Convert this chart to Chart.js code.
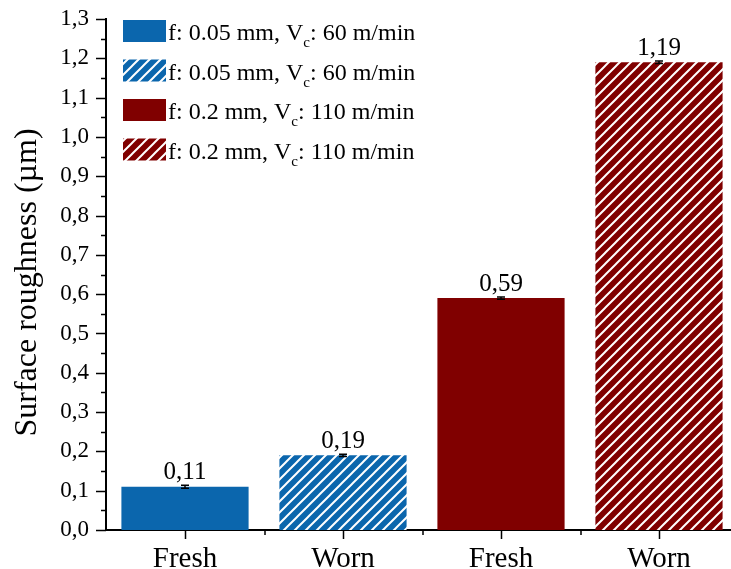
<!DOCTYPE html>
<html lang="en">
<head>
  <meta charset="UTF-8" />
  <title>Surface roughness</title>
  <script src="https://cdn.jsdelivr.net/npm/chart.js"></script>
  <style>
    html, body { margin: 0; padding: 0; background: #fff; overflow: hidden; }
    #wrap { width: 750px; height: 569px; }
  </style>
</head>
<body>
  <div id="wrap"><canvas id="roughChart" width="750" height="569"></canvas></div>

  <script>
    // Surface roughness per tool state
    const categories = ['Fresh', 'Worn', 'Fresh', 'Worn'];
    const roughness = [0.11, 0.19, 0.59, 1.19];
    const roughnessErr = [0.004, 0.003, 0.003, 0.003];
    const hatched = [false, true, false, true];
    const barColors = ['#0b66ad', '#0b66ad', '#800000', '#800000'];

    // Cutting conditions shown in the legend
    const legendFeed = ['0.05', '0.05', '0.2', '0.2'];
    const legendSpeed = ['60', '60', '110', '110'];

    // Y axis range and ticks
    const yMin = 0;
    const yMax = 1.3;
    const yStep = 0.1;
    const yTitle = 'Surface roughness (\u00b5m)';

    const FONT = '"Liberation Serif", "Times New Roman", serif';

    function hatchPattern(color) {
      const s = 11;
      const c = document.createElement('canvas');
      c.width = s; c.height = s;
      const g = c.getContext('2d');
      g.fillStyle = color;
      g.fillRect(0, 0, s, s);
      g.strokeStyle = '#fff';
      g.lineWidth = 2;
      g.beginPath();
      g.moveTo(0, s); g.lineTo(s, 0);
      g.moveTo(-2, 2); g.lineTo(2, -2);
      g.moveTo(s - 2, s + 2); g.lineTo(s + 2, s - 2);
      g.stroke();
      return document.getElementById('roughChart').getContext('2d').createPattern(c, 'repeat');
    }

    const fills = barColors.map((c, i) => hatched[i] ? hatchPattern(c) : c);
    const fmt = v => v.toFixed(2).replace('.', ',');

    // tick marks, error bars, value labels, axis title and legend
    const extras = {
      id: 'extras',
      afterDatasetsDraw(chart) {
        const { ctx, chartArea, scales: { x, y } } = chart;
        ctx.save();
        ctx.strokeStyle = '#000';
        ctx.lineWidth = 1.5;

        // y ticks, major at labels and minor in between
        ctx.beginPath();
        for (let v = yMin; v <= yMax + 1e-9; v += yStep) {
          const py = Math.round(y.getPixelForValue(v)) + 0.5;
          ctx.moveTo(chartArea.left - 10, py); ctx.lineTo(chartArea.left, py);
          if (v + yStep / 2 < yMax) {
            const pm = Math.round(y.getPixelForValue(v + yStep / 2)) + 0.5;
            ctx.moveTo(chartArea.left - 5, pm); ctx.lineTo(chartArea.left, pm);
          }
        }
        // x ticks at category centres and boundaries
        const half = (x.getPixelForValue(1) - x.getPixelForValue(0)) / 2;
        categories.forEach((c, i) => {
          const px = Math.round(x.getPixelForValue(i)) + 0.5;
          ctx.moveTo(px, chartArea.bottom); ctx.lineTo(px, chartArea.bottom + 9);
          const pb = Math.round(px + half);
          ctx.moveTo(pb, chartArea.bottom); ctx.lineTo(pb, chartArea.bottom + 5);
        });
        ctx.stroke();

        // error bars and value labels
        const meta = chart.getDatasetMeta(0);
        ctx.fillStyle = '#000';
        ctx.font = '25px ' + FONT;
        ctx.textAlign = 'center';
        ctx.textBaseline = 'alphabetic';
        roughness.forEach((v, i) => {
          const px = meta.data[i].x;
          const top = y.getPixelForValue(v + roughnessErr[i]);
          const bot = y.getPixelForValue(v - roughnessErr[i]);
          ctx.beginPath();
          ctx.moveTo(px, top); ctx.lineTo(px, bot);
          ctx.moveTo(px - 4, top); ctx.lineTo(px + 4, top);
          ctx.moveTo(px - 4, bot); ctx.lineTo(px + 4, bot);
          ctx.stroke();
          ctx.fillText(fmt(v), px, top - 6);
        });

        // rotated y axis title
        ctx.save();
        ctx.translate(36, (chartArea.top + chartArea.bottom) / 2 + 8);
        ctx.rotate(-Math.PI / 2);
        ctx.font = '32px ' + FONT;
        ctx.textAlign = 'center';
        ctx.fillText(yTitle, 0, 0);
        ctx.restore();

        // legend with subscripted V_c
        ctx.textAlign = 'left';
        legendFeed.forEach((f, i) => {
          const by = 20 + i * 39.5;
          ctx.fillStyle = fills[i];
          ctx.fillRect(123, by, 43, 22);
          ctx.fillStyle = '#000';
          let tx = 168;
          const base = by + 20;
          ctx.font = '24px ' + FONT;
          const a = 'f: ' + f + ' mm, V';
          ctx.fillText(a, tx, base);
          tx += ctx.measureText(a).width;
          ctx.font = '15px ' + FONT;
          ctx.fillText('c', tx, base + 7);
          tx += ctx.measureText('c').width;
          ctx.font = '24px ' + FONT;
          ctx.fillText(': ' + legendSpeed[i] + ' m/min', tx, base);
        });
        ctx.restore();
      }
    };

    new Chart(document.getElementById('roughChart'), {
      type: 'bar',
      data: {
        labels: categories,
        datasets: [{
          data: roughness,
          backgroundColor: fills,
          borderWidth: 0,
          barPercentage: 0.805,
          categoryPercentage: 1
        }]
      },
      options: {
        responsive: false,
        animation: false,
        events: [],
        layout: { padding: { left: 0, right: 12, top: 19, bottom: 0 } },
        plugins: { legend: { display: false }, tooltip: { enabled: false } },
        scales: {
          x: {
            grid: { display: false, drawTicks: false },
            border: { display: true, color: '#000', width: 2 },
            ticks: { color: '#000', padding: 12, font: { family: FONT, size: 29 } },
            afterFit: s => { s.height = 39; s.paddingLeft = 0; s.paddingRight = 0; }
          },
          y: {
            min: yMin,
            max: yMax,
            grid: { display: false, drawTicks: false },
            border: { display: true, color: '#000', width: 2 },
            ticks: {
              stepSize: yStep,
              color: '#000',
              padding: 17,
              font: { family: FONT, size: 23 },
              callback: v => v.toFixed(1).replace('.', ',')
            },
            afterFit: s => { s.width = 106; s.paddingTop = 0; s.paddingBottom = 0; }
          }
        }
      },
      plugins: [extras]
    });
  </script>
</body>
</html>
